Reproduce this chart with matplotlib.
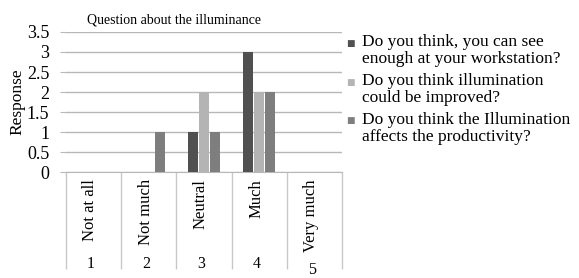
import matplotlib.pyplot as plt
import numpy as np

plt.rcParams['font.family'] = ['Liberation Serif', 'DejaVu Serif']

categories = ["Not at all", "Not much", "Neutral", "Much", "Very much"]
numbers = ["1", "2", "3", "4", "5"]
series_names = ["Do you think, you can see\nenough at your workstation?",
                "Do you think illumination\ncould be improved?",
                "Do you think the Illumination\naffects the productivity?"]
see_enough = [0, 0, 1, 3, 0]
improved = [0, 0, 2, 2, 0]
productivity = [0, 1, 1, 2, 0]
colors = ["#505050", "#b4b4b4", "#7e7e7e"]

fig = plt.figure(figsize=(5.79, 2.78), dpi=100)
ax = fig.add_axes([0.114, 0.381, 0.477, 0.504])

x = np.arange(len(categories))
w = 0.2
for i, vals in enumerate([see_enough, improved, productivity]):
    ax.bar(x + (i - 1) * w, vals, w * 0.92, color=colors[i], zorder=3)

ax.set_xlim(-0.5, len(categories) - 0.5)
ax.set_ylim(0, 3.5)
ax.set_yticks(np.arange(0, 3.51, 0.5))
ax.set_yticklabels(["0", "0.5", "1", "1.5", "2", "2.5", "3", "3.5"], fontsize=13)
ax.yaxis.grid(True, color="#b8b8b8", linewidth=1, zorder=0)
ax.tick_params(axis='y', length=4, color="#b8b8b8", pad=8)

# category separators hanging below the axis
ax.set_xticks(np.arange(-0.5, len(categories), 1))
ax.set_xticklabels([])
ax.tick_params(axis='x', length=70, color="#c8c8c8", width=1)

for s in ["top", "right", "left"]:
    ax.spines[s].set_visible(False)
ax.spines["bottom"].set_color("#b8b8b8")

trans = ax.get_xaxis_transform()
for i, (c, n) in enumerate(zip(categories, numbers)):
    ax.text(i - 0.06, -0.05, c, rotation=90, ha="center", va="top",
            fontsize=12, transform=trans)
    ny = -0.6 if i < 4 else -0.64
    ax.text(i - 0.05, ny, n, ha="center", va="top", fontsize=11.5,
            transform=trans)

ax.set_title("Question about the illuminance", fontsize=10, pad=6, x=0.39)
ax.set_ylabel("Response", fontsize=12.5, labelpad=1)

# legend on the right
for i, name in enumerate(series_names):
    y = 0.845 - i * 0.140
    fig.text(0.598, y, "\u25a0", color=colors[i], fontsize=6.5, va="center",
             family="DejaVu Sans")
    fig.text(0.625, y + 0.033, name, fontsize=12.5, va="top",
             linespacing=1.1)

fig.savefig("out.png", dpi=100)
